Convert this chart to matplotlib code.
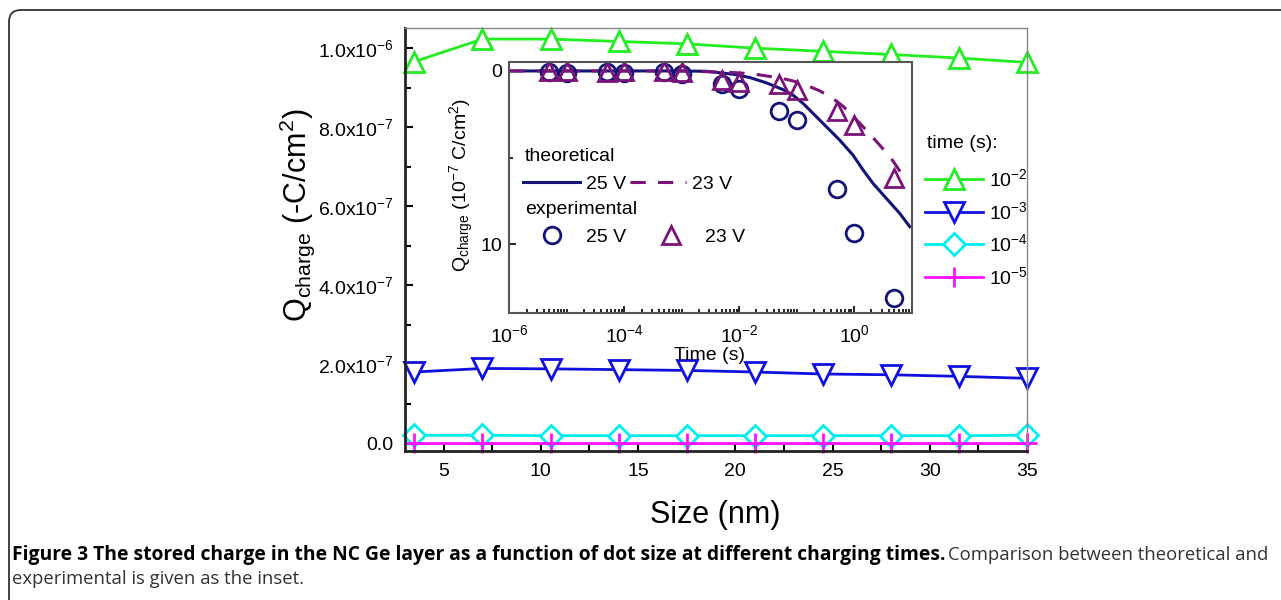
import matplotlib
matplotlib.use('Agg')
import matplotlib.pyplot as plt
import numpy as np
from matplotlib.lines import Line2D
from matplotlib.patches import FancyBboxPatch
import matplotlib.ticker as mt

plt.rcParams['font.family'] = ['Liberation Sans', 'DejaVu Sans']
plt.rcParams['mathtext.fontset'] = 'custom'
plt.rcParams['mathtext.rm'] = 'Liberation Sans'
plt.rcParams['mathtext.it'] = 'Liberation Sans:italic'
plt.rcParams['mathtext.bf'] = 'Liberation Sans:bold'

# ---------------- data ----------------
size_nm = [3.5, 7, 10.5, 14, 17.5, 21, 24.5, 28, 31.5, 35]
q_t1e2 = [0.966e-6, 1.023e-6, 1.023e-6, 1.017e-6, 1.011e-6, 1.000e-6, 0.992e-6, 0.984e-6, 0.975e-6, 0.964e-6]
q_t1e3 = [0.181e-6, 0.190e-6, 0.189e-6, 0.187e-6, 0.185e-6, 0.181e-6, 0.176e-6, 0.174e-6, 0.170e-6, 0.165e-6]
q_t1e4 = [0.021e-6, 0.021e-6, 0.020e-6, 0.020e-6, 0.020e-6, 0.020e-6, 0.020e-6, 0.020e-6, 0.020e-6, 0.021e-6]
q_t1e5 = [0.002e-6, 0.002e-6, 0.002e-6, 0.002e-6, 0.002e-6, 0.002e-6, 0.002e-6, 0.002e-6, 0.002e-6, 0.002e-6]
series_labels = ['10$^{-2}$', '10$^{-3}$', '10$^{-4}$', '10$^{-5}$']
y_tick_vals = [0, 2e-7, 4e-7, 6e-7, 8e-7, 1e-6]
y_tick_labels = ['0.0', '2.0x10$^{-7}$', '4.0x10$^{-7}$', '6.0x10$^{-7}$', '8.0x10$^{-7}$', '1.0x10$^{-6}$']
x_tick_vals = [5, 10, 15, 20, 25, 30, 35]

# inset: theoretical curves
theo25_t = [1e-6, 1e-3, 2.71e-3, 7.87e-3, 1.53e-2, 3.0e-2, 5.82e-2, 8.69e-2, 0.130, 0.194, 0.331, 0.564,
            0.962, 1.44, 2.14, 3.66, 6.24, 9.31]
theo25_q = [0, 0, 0.02, 0.19, 0.38, 0.69, 1.08, 1.40, 1.88, 2.46, 3.23, 4.00, 4.87, 5.73, 6.50, 7.37, 8.23, 9.0]
theo23_t = [1e-6, 1e-3, 7.87e-3, 1.75e-2, 3.0e-2, 5.1e-2, 8.69e-2, 0.149, 0.253, 0.431, 0.644, 0.962,
            1.64, 2.80, 4.76, 7.62]
theo23_q = [0, 0, 0.09, 0.17, 0.29, 0.40, 0.58, 0.83, 1.15, 1.60, 2.04, 2.62, 3.43, 4.29, 5.20, 6.22]
# inset: experimental points
exp_t = [5e-6, 1e-5, 5e-5, 1e-4, 5e-4, 1e-3, 5e-3, 1e-2, 5e-2, 1e-1, 5e-1, 1, 5]
exp25_q = [0.05, 0.1, 0.05, 0.1, 0.05, 0.15, 0.73, 1.02, 2.32, 2.82, 6.84, 9.36, 13.09]
exp23_q = [0, 0, 0.05, 0, 0, 0.05, 0.5, 0.61, 0.75, 1.12, 2.32, 3.15, 6.16]
inset_xticks = [1e-6, 1e-4, 1e-2, 1]
inset_xticklabels = ['10$^{-6}$', '10$^{-4}$', '10$^{-2}$', '10$^{0}$']

caption_bold = 'Figure 3 The stored charge in the NC Ge layer as a function of dot size at different charging times.'
caption_reg1 = 'Comparison between theoretical and'
caption_reg2 = 'experimental is given as the inset.'

# ---------------- figure ----------------
W, H = 1281, 600
fig = plt.figure(figsize=(W / 100, H / 100), dpi=100)

def fx(px):
    return px / W

def fy(py):
    return 1 - py / H

# frame
frame = FancyBboxPatch((0.09, -0.3), 13.2, 6.2, boxstyle='round,pad=0,rounding_size=0.12',
                       transform=fig.dpi_scale_trans, facecolor='none', edgecolor='#333333',
                       linewidth=1.3, clip_on=False)
fig.patches.append(frame)

ax = fig.add_axes([fx(404.7), fy(450.7), fx(1027) - fx(404.7), fy(28) - fy(450.7)])
ax.set_xlim(3, 35)
ax.set_ylim(-1.8e-8, 1.051e-6)

colors = ['#22ee22', '#1010e0', '#00eeee', '#ff10ff']
l1, = ax.plot(size_nm, q_t1e2, color=colors[0], lw=2, marker='^', ms=15, mfc='white', mec=colors[0], mew=2)
l2, = ax.plot(size_nm, q_t1e3, color=colors[1], lw=2, marker='v', ms=15, mfc='white', mec=colors[1], mew=2)
l3, = ax.plot(size_nm, q_t1e4, color=colors[2], lw=2, marker='D', ms=11, mfc='white', mec=colors[2], mew=2)
l4, = ax.plot(size_nm, q_t1e5, color=colors[3], lw=2, marker='+', ms=14, mec=colors[3], mew=2)
for l in (l1, l2, l3, l4):
    l.set_clip_on(False)

ax.set_xticks(x_tick_vals)
ax.xaxis.set_minor_locator(mt.MultipleLocator(2.5))
ax.set_yticks(y_tick_vals)
ax.set_yticklabels(y_tick_labels)
ax.yaxis.set_minor_locator(mt.MultipleLocator(1e-7))
ax.tick_params(which='both', direction='in', width=1.5, labelsize=14)
ax.tick_params(which='major', length=6)
ax.tick_params(which='minor', length=4)
ax.tick_params(axis='x', pad=9)
ax.tick_params(axis='y', pad=8)
for s in ('left', 'bottom'):
    ax.spines[s].set_linewidth(2)
    ax.spines[s].set_color('#222222')
for s in ('top', 'right'):
    ax.spines[s].set_linewidth(1)
    ax.spines[s].set_color('#888888')

fig.text(fx(715), fy(515), 'Size (nm)', fontsize=22, ha='center', va='center')
fig.text(fx(297), fy(215), 'Q$_{\\rm charge}$ (-C/cm$^{2}$)', fontsize=22, rotation=90,
         ha='center', va='center')

fig.text(fx(927), fy(143), 'time (s):', fontsize=14, ha='left', va='center')
fig.legend([l1, l2, l3, l4], series_labels, loc='center left',
           bbox_to_anchor=(fx(925), fy(228)), frameon=False,
           fontsize=14, handlelength=3,
           handletextpad=0.3, labelspacing=0.55, borderpad=0, borderaxespad=0)

# ---------------- inset ----------------
axi = fig.add_axes([fx(509.3), fy(313.3), fx(912.3) - fx(509.3), fy(62.3) - fy(313.3)])
axi.set_facecolor('white')
axi.set_xscale('log')
axi.set_xlim(1e-6, 10.3)
axi.set_ylim(14.0, -0.5)
navy = '#141478'
purple = '#7a1478'
t25, = axi.plot(theo25_t, theo25_q, color=navy, lw=2.2)
t23, = axi.plot(theo23_t, theo23_q, color=purple, lw=2.2, dashes=(5, 4))
e25, = axi.plot(exp_t, exp25_q, ls='none', marker='o', ms=12, mfc='none', mec=navy, mew=2)
e23, = axi.plot(exp_t, exp23_q, ls='none', marker='^', ms=13, mfc='none', mec=purple, mew=2)
axi.set_xticks(inset_xticks)
axi.set_xticklabels(inset_xticklabels)
axi.xaxis.set_minor_locator(mt.LogLocator(base=10, subs=np.arange(1, 10), numticks=30))
axi.xaxis.set_minor_formatter(mt.NullFormatter())
axi.set_yticks([0, 10])
axi.set_yticklabels(['0', '10'])
axi.yaxis.set_minor_locator(mt.FixedLocator([5]))
axi.tick_params(which='both', direction='in', width=1.2, labelsize=14, top=False, right=False)
axi.tick_params(which='major', length=5)
axi.tick_params(which='minor', length=3)
axi.tick_params(axis='x', pad=8)
axi.tick_params(axis='y', pad=5)
for s in axi.spines.values():
    s.set_linewidth(1.5)
    s.set_color('#555555')

fig.text(fx(710), fy(355), 'Time (s)', fontsize=14, ha='center', va='center')
fig.text(fx(462), fy(185), 'Q$_{\\rm charge}$ (10$^{-7}$ C/cm$^{2}$)', fontsize=14, rotation=90,
         ha='center', va='center')

axi.text(0.039, 0.623, 'theoretical', transform=axi.transAxes, fontsize=14, va='center', ha='left')
axi.text(0.039, 0.412, 'experimental', transform=axi.transAxes, fontsize=14, va='center', ha='left')
leg1 = axi.legend([t25, t23], ['25 V', '23 V'], loc='center left', bbox_to_anchor=(0.035, 0.515),
                  ncol=2, frameon=False, borderpad=0, borderaxespad=0, handlelength=2.9,
                  handletextpad=0.3, columnspacing=0.2, fontsize=14)
axi.add_artist(leg1)
h25 = Line2D([], [], ls='none', marker='o', ms=12, mfc='none', mec=navy, mew=2)
h23 = Line2D([], [], ls='none', marker='^', ms=13, mfc='none', mec=purple, mew=2)
leg2 = axi.legend([h25, h23], ['25 V', '23 V'], loc='center left', bbox_to_anchor=(0.035, 0.305),
                  ncol=2, frameon=False, borderpad=0, borderaxespad=0, handlelength=2.9,
                  handletextpad=0.3, columnspacing=0.9, fontsize=14, numpoints=1)

# ---------------- caption ----------------
cap_color = '#333333'
fig.canvas.draw()
r = fig.canvas.get_renderer()
# second line: regular, size fitted to its width (12 -> ~302 px)
t3 = fig.text(fx(12), fy(579), caption_reg2, fontsize=12, family='Open Sans',
              ha='left', va='center', color=cap_color)
w2 = t3.get_window_extent(r).width
fs_r = 12 * 290 / w2
t3.set_fontsize(fs_r)
# regular part of the first line ends at the right margin
t2 = fig.text(fx(1268), fy(555), caption_reg1, fontsize=fs_r, family='Open Sans',
              ha='right', va='center', color=cap_color)
fig.canvas.draw()
x_reg = t2.get_window_extent(r).x0
# bold part fills from the left margin up to the regular part
tb = fig.text(fx(12), fy(555), caption_bold, fontsize=12, fontweight='bold', family='Open Sans',
              ha='left', va='center', color='black')
wb = tb.get_window_extent(r).width
tb.set_fontsize(12 * (x_reg - 6 - 12) / wb)

fig.savefig('out.png', dpi=100)
